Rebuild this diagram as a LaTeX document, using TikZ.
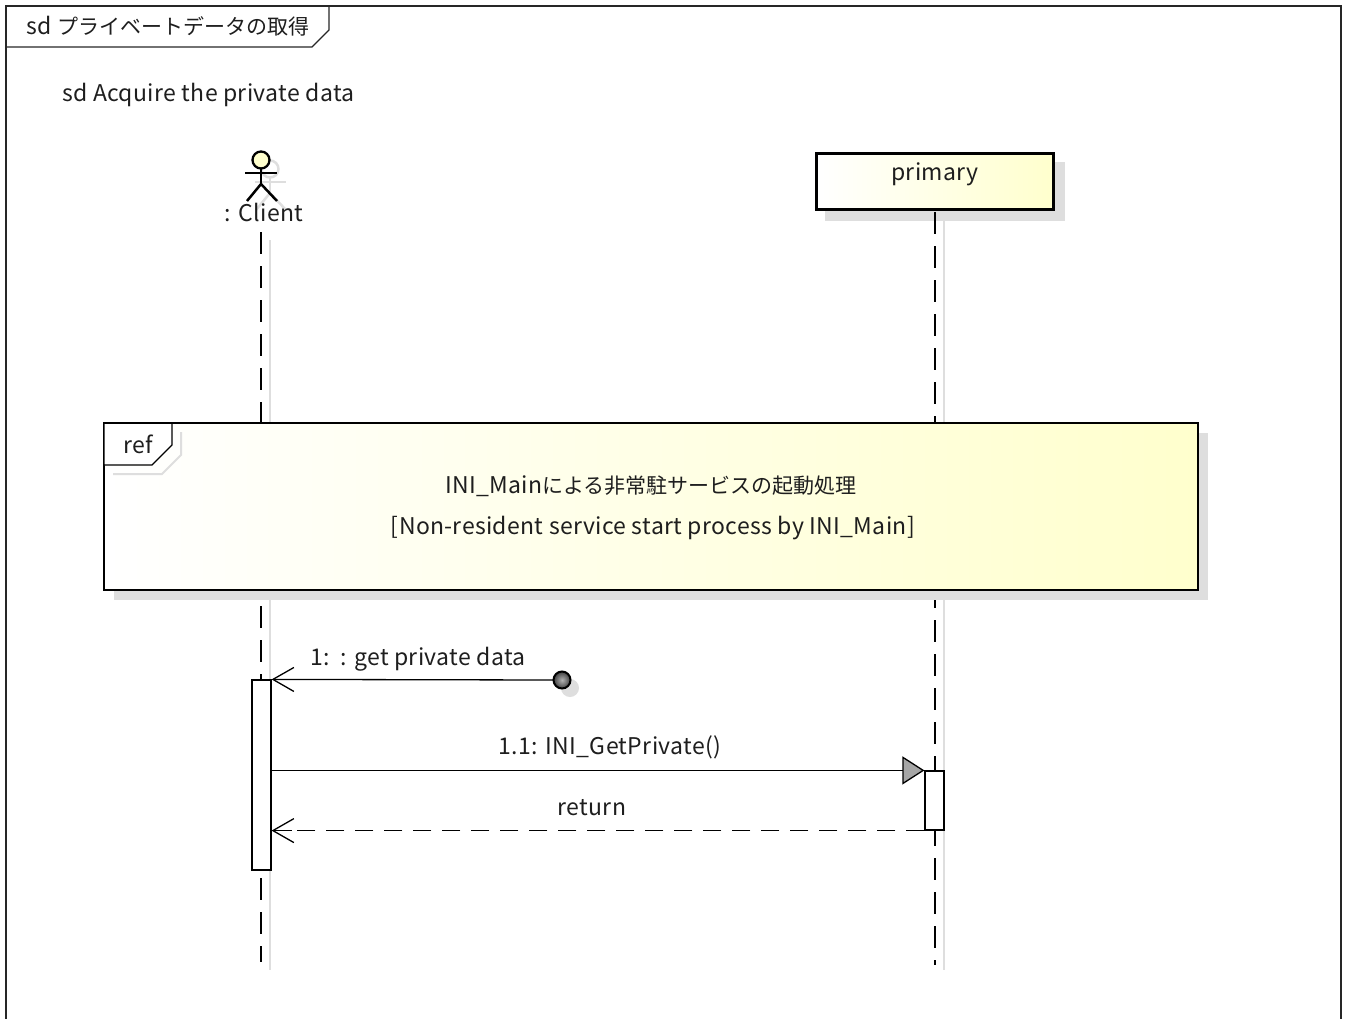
\documentclass[tikz,border=0pt]{standalone}
\usepackage{fontspec}
\setmainfont[LetterSpace=1.5]{Noto Sans CJK JP}
\newfontfamily\cjkf{Noto Sans CJK JP}
\newcommand\cjk{\cjkf\fontsize{21}{25}\selectfont}
\usetikzlibrary{arrows.meta}
\definecolor{lyel}{RGB}{255,255,205}
\definecolor{shad}{RGB}{222,222,222}
\definecolor{txt}{RGB}{30,30,30}
\tikzset{
  lbl/.style={text=txt, font=\fontsize{23}{27}\selectfont, inner sep=0pt},
  frameline/.style={line width=1.3pt, draw=black!85},
  lifeline/.style={line width=1.5pt, dash pattern=on 22pt off 12pt},
  lifeshadow/.style={line width=2pt, draw=shad},
  actbox/.style={draw, line width=1.2pt, fill=white, minimum width=19pt, minimum height=#1, inner sep=0pt},
  msg/.style={line width=1.3pt},
  openarrow/.style={-{Straight Barb[length=21pt, width=24pt, line width=1.3pt]}},
  closedarrow/.style={-{Triangle[length=22pt, width=28pt, fill=gray!70, line width=1.3pt]}},
  retmsg/.style={line width=1.3pt, dash pattern=on 18pt off 11pt},
}
\begin{document}
\begin{tikzpicture}[x=1pt,y=-1pt]
\useasboundingbox (0,0) rectangle (1346,1019);
% frame
\draw[frameline] (6,1030) -- (6,6) -- (1341,6) -- (1341,1030);
\draw[frameline] (6,47) -- (312,47) -- (329,30) -- (329,6);
\node[lbl, anchor=west] (title) at (26,26) {sd \cjk プライベートデータの取得};
\node[lbl, anchor=west] (sdname) at (62,95) {sd Acquire the private data};

% lifeline shadows
\draw[lifeshadow] (270,240) -- (270,970);
\draw[lifeshadow] (944,220) -- (944,970);

% actor shadow
\begin{scope}[shift={(9,9)}, draw=shad, line width=2.5pt]
  \draw (261,169) -- (261,184);
  \draw (246,173) -- (277,173);
  \draw (247,201) -- (261,184) -- (277,201);
  \draw (261,160) circle (8.5);
\end{scope}
% actor
\draw[line width=2.5pt] (261,169) -- (261,184);
\draw[line width=2.5pt] (245,173) -- (277,173);
\draw[line width=2.5pt] (247,201) -- (261,184) -- (277,201);
\draw[line width=2.3pt, fill=lyel] (261,160) circle (8.5);
\node[lbl] (client) at (264,212) {: Client};

% primary
\fill[shad] (825,162) rectangle (1065,221);
\node[draw, line width=3pt, left color=white, right color=lyel, minimum width=237pt, minimum height=56pt, inner sep=0pt] (primary) at (935,181.5) {};
\node[lbl] (primarytxt) at (935,174) {primary};

% lifelines
\coordinate (clTop) at (261,232);
\coordinate (clEnd) at (261,962);
\coordinate (prTop) at (935,212);
\coordinate (prEnd) at (935,965);
\draw[lifeline] (clTop) -- (clEnd);
\draw[lifeline] (prTop) -- (prEnd);

% ref box
\fill[shad] (114,433) rectangle (1208,600);
\node[draw, line width=1.3pt, left color=white, right color=lyel, minimum width=1094pt, minimum height=167pt, inner sep=0pt] (ref) at (651,506.5) {};
\draw[line width=2pt, draw=shad] (113,474) -- (162,474) -- (181,455) -- (181,432);
\draw[line width=1.3pt, fill=white] (104,423) -- (104,465) -- (152,465) -- (172,445) -- (172,423) -- cycle;
\draw[line width=1.3pt] (104,423) -- (1198,423);
\node[lbl] (reflbl) at (138,444) {ref};
\node[lbl] (ref1) at (651,486) {INI\_Main\cjk による非常駐サービスの起動処理};
\node[lbl] (ref2) at (653,528) {[Non-resident service start process by INI\_Main]};

% activations
\node[actbox=190pt] (a1) at (261.5,775) {};
\node[actbox=59pt] (a2) at (934.5,800.5) {};

% found message
\fill[shad] (570,688) circle (9);
\coordinate (dot) at (553,680);
\draw[msg, openarrow] (dot) -- (a1.north east);
\draw[line width=2pt, inner color=gray!60, outer color=black!75] (562,680) circle (8.5);
\node[lbl, anchor=west] (m1) at (310,659) {1:\ \ : get private data};

% call
\draw[msg, closedarrow] (a1.east |- a2.north west) -- (a2.north west);
\node[lbl] (m2) at (610,747) {1.1: INI\_GetPrivate()};

% return
\coordinate (retEnd) at (a1.east |- a2.south west);
\draw[retmsg] (a2.south west) -- (retEnd);
\draw[msg, openarrow] ([xshift=20pt]retEnd) -- (retEnd);
\node[lbl] (m3) at (592,808) {return};
\end{tikzpicture}
\end{document}
